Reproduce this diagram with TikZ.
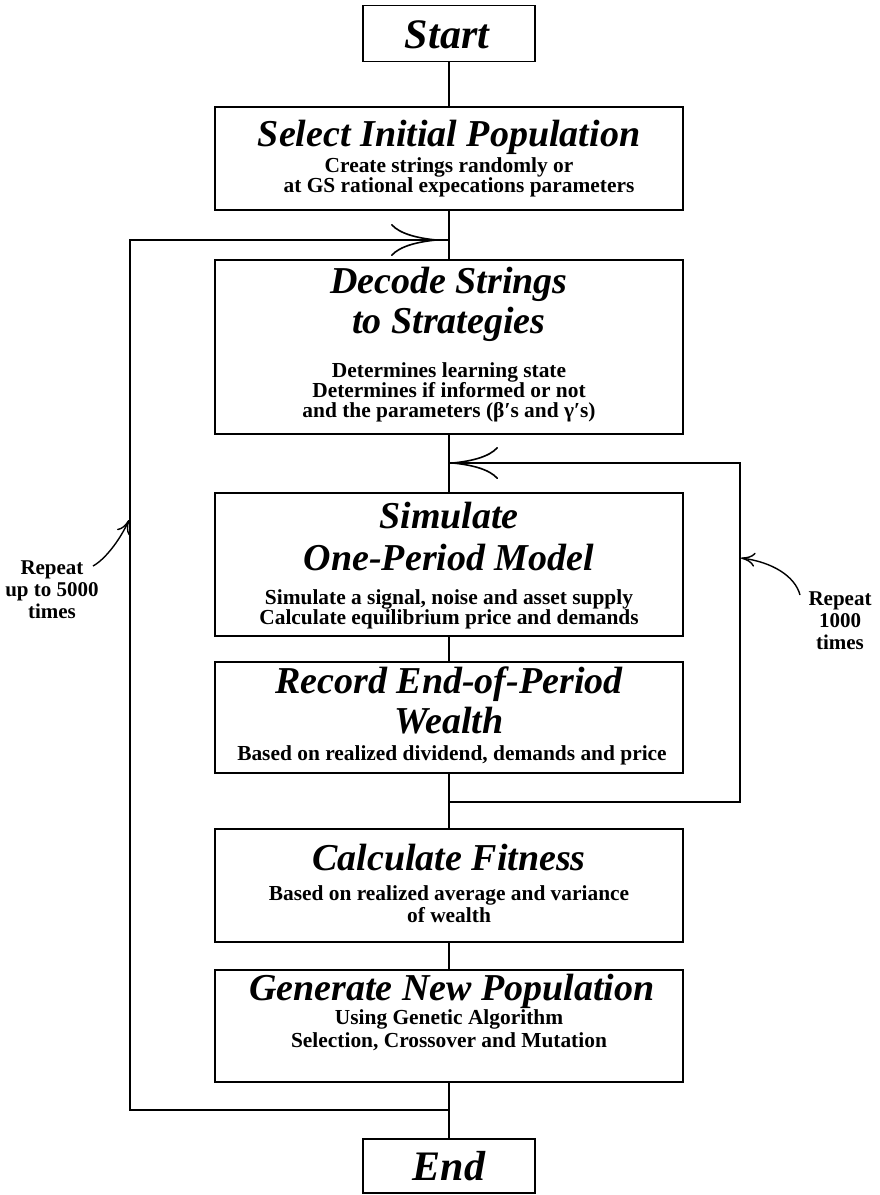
\documentclass[tikz,border=0pt]{standalone}
\usepackage{fontspec}
\setmainfont{Liberation Serif}
\usetikzlibrary{arrows.meta}
\begin{document}
\begin{tikzpicture}[x=1pt,y=-1pt,
  box/.style={draw, line width=1.6pt, minimum width=468pt, inner sep=0pt},
  termbox/.style={draw, line width=1.6pt, minimum width=172pt, minimum height=56pt, inner sep=0pt},
  ttl/.style={anchor=base, inner sep=0pt, font=\fontsize{38}{40}\selectfont\bfseries\itshape},
  termttl/.style={anchor=base, inner sep=0pt, font=\fontsize{42}{44}\selectfont\bfseries\itshape},
  sub/.style={anchor=base, inner sep=0pt, font=\fontsize{21.4}{22}\selectfont\bfseries},
  lab/.style={align=center, inner sep=0pt, font=\fontsize{21}{22}\selectfont\bfseries},
  conn/.style={line width=1.6pt},
  bigarrow/.style={conn, -{Computer Modern Rightarrow[length=46pt,width=32pt,line width=1.6pt]}},
  smallarrow/.style={line width=1.4pt, -{Computer Modern Rightarrow[length=14pt,width=14pt,line width=1.4pt]}}
]
\useasboundingbox (0,0) rectangle (880,1195);

% boxes
\node[termbox] (start) at (449,33.5) {};
\node[box, minimum height=103pt] (sel) at (449,158.5) {};
\node[box, minimum height=174pt] (dec) at (449,347) {};
\node[box, minimum height=143pt] (sim) at (449,564.5) {};
\node[box, minimum height=111pt] (rec) at (449,717.5) {};
\node[box, minimum height=113pt] (calc) at (449,885.5) {};
\node[box, minimum height=112pt] (gen) at (449,1026) {};
\node[termbox, minimum height=54pt] (end) at (449,1166) {};

% texts
\node[termttl] (tstart) at (447,48) {Start};
\node[termttl] (tend) at (449,1180) {End};

\node[ttl] (tsel) at (449,146) {Select Initial Population};
\node[sub] (ssel1) at (449,172) {Create strings randomly or};
\node[sub] (ssel2) at (459,192) {at GS rational expecations parameters};

\node[ttl] (tdec1) at (449,293) {Decode Strings};
\node[ttl] (tdec2) at (449,333) {to Strategies};
\node[sub] (sdec1) at (449,377) {Determines learning state};
\node[sub] (sdec2) at (449,397) {Determines if informed or not};
\node[sub] (sdec3) at (449,417) {and the parameters (β′s and γ′s)};

\node[ttl] (tsim1) at (449,528) {Simulate};
\node[ttl] (tsim2) at (449,570) {One-Period Model};
\node[sub] (ssim1) at (449,604) {Simulate a signal, noise and asset supply};
\node[sub] (ssim2) at (449,624) {Calculate equilibrium price and demands};

\node[ttl] (trec1) at (449,693) {Record End-of-Period};
\node[ttl] (trec2) at (449,733) {Wealth};
\node[sub] (srec1) at (452,760) {Based on realized dividend, demands and price};

\node[ttl] (tcalc) at (449,870) {Calculate Fitness};
\node[sub] (scalc1) at (449,900) {Based on realized average and variance};
\node[sub] (scalc2) at (449,922) {of wealth};

\node[ttl] (tgen) at (452,1000) {Generate New Population};
\node[sub] (sgen1) at (449,1024) {Using Genetic Algorithm};
\node[sub] (sgen2) at (449,1047) {Selection, Crossover and Mutation};

% main flow
\draw[conn] (start.south) -- (sel.north);
\draw[conn] (sel.south) -- (dec.north);
\draw[conn] (dec.south) -- (sim.north);
\draw[conn] (sim.south) -- (rec.north);
\draw[conn] (rec.south) -- (calc.north);
\draw[conn] (calc.south) -- (gen.north);
\draw[conn] (gen.south) -- (end.north);

% outer loop
\coordinate (jt) at (449,240);
\coordinate (lt) at (130,240);
\coordinate (lb) at (130,1110);
\coordinate (jb) at (449,1110);
\draw[conn] (jb) -- (lb) -- (lt) -- (jt);
\draw[bigarrow, shorten >=12pt] (lt) -- (jt);

% inner loop
\coordinate (rt) at (449,463);
\coordinate (rtr) at (740,463);
\coordinate (rbr) at (740,802);
\coordinate (rb) at (449,802);
\draw[conn] (rb) -- (rbr) -- (rtr) -- (rt);
\draw[bigarrow, shorten >=3pt] (rtr) -- (rt);

% labels
\node[lab] (lrep) at (52,590) {Repeat\\up to 5000\\times};
\node[lab] (rrep) at (840,621) {Repeat\\1000\\times};

\coordinate (lcs) at (93,566);
\coordinate (lct) at (129,520);
\draw[smallarrow] (lcs) .. controls (104,560) and (119,542) .. (lct);

\coordinate (rcs) at (800,595);
\coordinate (rct) at (741,558);
\draw[smallarrow] (rcs) .. controls (795,576) and (772,562) .. (rct);
\end{tikzpicture}
\end{document}
